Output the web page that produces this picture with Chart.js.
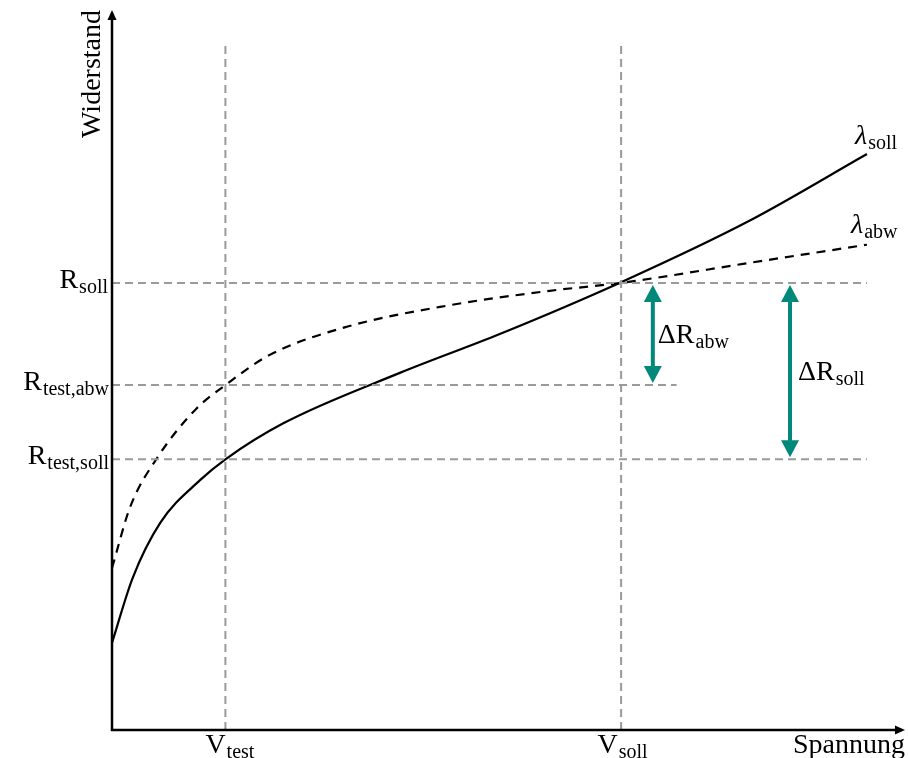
<!DOCTYPE html>
<html>
<head>
<meta charset="utf-8">
<script src="https://cdn.jsdelivr.net/npm/chart.js@4"></script>
<style>
  html, body { margin: 0; padding: 0; background: #fff; }
  canvas { display: block; }
</style>
</head>
<body>
<canvas id="kennlinie" width="908" height="758"></canvas>
<script>
// Kennlinien (Spannung und Widerstand in willkürlichen Einheiten)
const sollX = [0, 0.26, 0.61, 1.11, 1.43, 2.16, 3.63, 4.89, 6.42, 8.05, 9.52];
const sollY = [1.21, 2.11, 2.88, 3.47, 3.76, 4.26, 4.96, 5.50, 6.22, 7.08, 8.00];
const abwX = [0, 0.23, 0.57, 1.07, 1.43, 1.99, 2.96, 4.26, 5.52, 6.42, 8.05, 9.52];
const abwY = [2.25, 3.10, 3.78, 4.47, 4.79, 5.21, 5.60, 5.90, 6.10, 6.21, 6.49, 6.74];

// Markante Werte
const vTest = 1.43;
const vSoll = 6.42;
const rSoll = 6.21;
const rTestAbw = 4.79;
const rTestSoll = 3.76;
const xEnd = 9.52;      // Ende der Kurven
const vLineTop = 9.53;  // obere Grenze der senkrechten Hilfslinien
const rAbwLineEnd = 7.12;
const dRabwX = 6.82;    // Lage der Pfeile
const dRsollX = 8.55;

const toPoints = (xs, ys) => xs.map((x, i) => ({ x: x, y: ys[i] }));

const grey = '#9a9a9a';
const teal = '#00897b';
const serif = '"Liberation Serif", "DejaVu Serif", serif';
const baseSize = 28;
const subSize = 20;

function refLine(points) {
    return {
        data: points,
        borderColor: grey,
        borderWidth: 2,
        borderDash: [8, 5],
        pointRadius: 0,
        tension: 0
    };
}

// Text mit Tiefstellung zeichnen
function subText(c, base, sub, x, y, align, italic) {
    const baseFont = (italic ? 'italic ' : '') + baseSize + 'px ' + serif;
    c.font = baseFont;
    const wb = c.measureText(base).width;
    c.font = subSize + 'px ' + serif;
    const ws = c.measureText(sub).width;
    let left = x;
    if (align === 'right') left = x - wb - ws;
    if (align === 'center') left = x - (wb + ws) / 2;
    c.textAlign = 'left';
    c.textBaseline = 'alphabetic';
    c.fillStyle = '#000';
    c.font = baseFont;
    c.fillText(base, left, y);
    c.font = subSize + 'px ' + serif;
    c.fillText(sub, left + wb + 1, y + 5);
}

function arrowHead(c, x, tipY, dir) {
    // dir = -1 zeigt nach oben, +1 nach unten
    c.beginPath();
    c.moveTo(x, tipY);
    c.lineTo(x - 9, tipY - dir * 17);
    c.lineTo(x + 9, tipY - dir * 17);
    c.closePath();
    c.fill();
}

function doubleArrow(c, x, yTop, yBottom) {
    c.save();
    c.strokeStyle = teal;
    c.fillStyle = teal;
    c.lineWidth = 4;
    c.beginPath();
    c.moveTo(x, yTop + 10);
    c.lineTo(x, yBottom - 10);
    c.stroke();
    arrowHead(c, x, yTop + 2, -1);
    arrowHead(c, x, yBottom - 2, 1);
    c.restore();
}

const decorations = {
    id: 'decorations',
    afterDatasetsDraw(chart) {
        const c = chart.ctx;
        const xs = chart.scales.x;
        const ys = chart.scales.y;
        const area = chart.chartArea;
        const x0 = area.left;
        const y0 = area.bottom;

        // Achsen mit Pfeilspitzen
        c.save();
        c.strokeStyle = '#000';
        c.fillStyle = '#000';
        c.lineWidth = 2.5;
        c.beginPath();
        c.moveTo(x0, y0 + 1);
        c.lineTo(x0, area.top + 6);
        c.moveTo(x0 - 1, y0);
        c.lineTo(area.right - 6, y0);
        c.stroke();
        c.beginPath();
        c.moveTo(x0, area.top);
        c.lineTo(x0 - 4.5, area.top + 10);
        c.lineTo(x0 + 4.5, area.top + 10);
        c.closePath();
        c.fill();
        c.beginPath();
        c.moveTo(area.right, y0);
        c.lineTo(area.right - 10, y0 - 4.5);
        c.lineTo(area.right - 10, y0 + 4.5);
        c.closePath();
        c.fill();
        c.restore();

        // Pfeile
        doubleArrow(c, xs.getPixelForValue(dRabwX), ys.getPixelForValue(rSoll), ys.getPixelForValue(rTestAbw));
        doubleArrow(c, xs.getPixelForValue(dRsollX), ys.getPixelForValue(rSoll), ys.getPixelForValue(rTestSoll));

        // Beschriftungen
        c.save();
        subText(c, 'R', 'soll', x0 - 5, ys.getPixelForValue(rSoll) + 5, 'right');
        subText(c, 'R', 'test,abw', x0 - 4, ys.getPixelForValue(rTestAbw) + 5, 'right');
        subText(c, 'R', 'test,soll', x0 - 4, ys.getPixelForValue(rTestSoll) + 5, 'right');
        subText(c, 'V', 'test', xs.getPixelForValue(vTest) + 4, y0 + 23, 'center');
        subText(c, 'V', 'soll', xs.getPixelForValue(vSoll) + 1, y0 + 23, 'center');
        subText(c, 'λ', 'soll', 855, ys.getPixelForValue(8.00) - 10, 'left', true);
        subText(c, 'λ', 'abw', 851, ys.getPixelForValue(6.74) - 12, 'left', true);
        subText(c, 'ΔR', 'abw', xs.getPixelForValue(dRabwX) + 5, ys.getPixelForValue((rSoll + rTestAbw) / 2) + 9, 'left');
        subText(c, 'ΔR', 'soll', xs.getPixelForValue(dRsollX) + 8, ys.getPixelForValue((rSoll + rTestSoll) / 2) + 9, 'left');

        c.fillStyle = '#000';
        c.font = baseSize + 'px ' + serif;
        c.textAlign = 'right';
        c.textBaseline = 'alphabetic';
        c.fillText('Spannung', area.right, y0 + 23);

        c.translate(x0 - 12, area.top);
        c.rotate(-Math.PI / 2);
        c.textAlign = 'right';
        c.fillText('Widerstand', 0, 0);
        c.restore();
    }
};

new Chart(document.getElementById('kennlinie'), {
    type: 'line',
    data: {
        datasets: [
            refLine([{ x: vTest, y: 0 }, { x: vTest, y: vLineTop }]),
            refLine([{ x: vSoll, y: 0 }, { x: vSoll, y: vLineTop }]),
            refLine([{ x: 0, y: rSoll }, { x: xEnd, y: rSoll }]),
            refLine([{ x: 0, y: rTestAbw }, { x: rAbwLineEnd, y: rTestAbw }]),
            refLine([{ x: 0, y: rTestSoll }, { x: xEnd, y: rTestSoll }]),
            {
                label: 'λ abw',
                data: toPoints(abwX, abwY),
                borderColor: '#000',
                borderWidth: 2.2,
                borderDash: [9, 7],
                pointRadius: 0,
                cubicInterpolationMode: 'monotone'
            },
            {
                label: 'λ soll',
                data: toPoints(sollX, sollY),
                borderColor: '#000',
                borderWidth: 2.2,
                pointRadius: 0,
                cubicInterpolationMode: 'monotone'
            }
        ]
    },
    options: {
        responsive: false,
        animation: false,
        layout: { padding: { left: 112, right: 3, top: 10, bottom: 28 } },
        plugins: {
            legend: { display: false },
            tooltip: { enabled: false }
        },
        scales: {
            x: { type: 'linear', min: 0, max: 10, display: false },
            y: { type: 'linear', min: 0, max: 10, display: false }
        }
    },
    plugins: [decorations]
});
</script>
</body>
</html>
